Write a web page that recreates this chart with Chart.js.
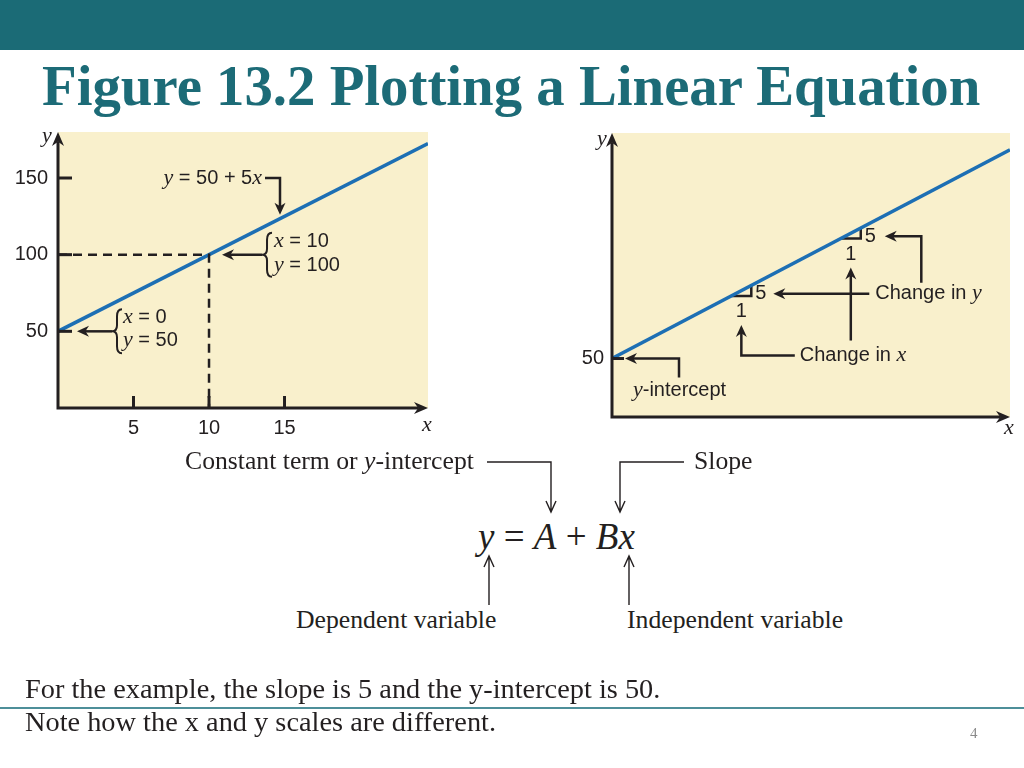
<!DOCTYPE html>
<html>
<head>
<meta charset="utf-8">
<script src="https://cdn.jsdelivr.net/npm/chart.js@4.4.1/dist/chart.umd.min.js"></script>
<style>
  body { margin: 0; width: 1024px; height: 768px; position: relative; overflow: hidden; background: #fff; color: #231f20; font-family: "Liberation Serif", "Times New Roman", serif; }
  .abs { position: absolute; white-space: nowrap; }
  .lbl { font-size: 25.7px; line-height: 30px; }
  .note { font-size: 27px; line-height: 30px; transform: scaleX(1.05); transform-origin: 0 0; }
  i { font-style: italic; }
</style>
</head>
<body>
<div class="abs" style="left:0;top:0;width:1024px;height:50px;background:#1b6b76"></div>
<div class="abs" style="left:42px;top:58px;font:bold 56.8px/1 'Liberation Serif',serif;color:#1c6b77">Figure 13.2 Plotting a Linear Equation</div>

<canvas id="left" class="abs" width="440" height="330" style="left:0;top:120px"></canvas>
<canvas id="right" class="abs" width="454" height="330" style="left:570px;top:120px"></canvas>

<!-- equation block under the charts -->
<div class="abs lbl" style="left:185px;top:446px">Constant term or <i>y</i>-intercept</div>
<div class="abs lbl" style="left:694px;top:446px">Slope</div>
<div class="abs" style="left:478px;top:515px;font-size:37px;line-height:44px"><i>y</i> = <i>A</i> + <i>Bx</i></div>
<div class="abs lbl" style="left:296px;top:605px">Dependent variable</div>
<div class="abs lbl" style="left:627px;top:605px">Independent variable</div>
<svg class="abs" style="left:0;top:0" width="1024" height="768" fill="none" stroke="#231f20" stroke-width="1.4">
  <path d="M487 462 H551 V512 M546 501 L551 512 L556 501"/>
  <path d="M684 462 H620 V512 M615 501 L620 512 L625 501"/>
  <path d="M489 605 V556 M484 567 L489 556 L494 567"/>
  <path d="M629 605 V556 M624 567 L629 556 L634 567"/>
  <path d="M0 708 H1024" stroke="#4d8f99" stroke-width="2"/>
</svg>

<div class="abs note" style="left:25px;top:674px">For the example, the slope is 5 and the y-intercept is 50.</div>
<div class="abs note" style="left:25px;top:707px">Note how the x and y scales are different.</div>
<div class="abs" style="left:970px;top:723px;font-size:15px;line-height:20px;color:#8a8a8a">4</div>

<script>
// left panel: y = 50 + 5x
const leftLineX = [0, 24.5];
const leftLineY = [50, 172.5];
const leftYTicks = [50, 100, 150];
const leftXTicks = [5, 10, 15];
const guidePoint = [10, 100];
const eqPointer = [14.7, 123.5];

// right panel: slope steps
const rightLineX = [0, 20];
const rightLineY = [50, 150];
const rightYTicks = [50];
const stepX = [6, 11.5];
const stepY = [80, 107.5];

const INK = '#231f20';
const BLUE = '#1d6fb4';
const BEIGE = '#f9f0cc';
const SANS = '20px "Liberation Sans", Arial, sans-serif';
const ITAL = 'italic 22px "Liberation Serif", serif';

function pts(xs, ys) {
  return xs.map((x, i) => ({ x: x, y: ys[i] }));
}

function head(ctx, x, y, ux, uy, L, W) {
  const nx = -uy, ny = ux;
  ctx.beginPath();
  ctx.moveTo(x, y);
  ctx.lineTo(x - L * ux + W * nx, y - L * uy + W * ny);
  ctx.lineTo(x - 0.7 * L * ux, y - 0.7 * L * uy);
  ctx.lineTo(x - L * ux - W * nx, y - L * uy - W * ny);
  ctx.closePath();
  ctx.fill();
}

// polyline ending in a filled arrow head
function arrow(ctx, p) {
  const n = p.length;
  const dx = p[n - 1][0] - p[n - 2][0], dy = p[n - 1][1] - p[n - 2][1];
  const d = Math.hypot(dx, dy), ux = dx / d, uy = dy / d;
  ctx.beginPath();
  ctx.moveTo(p[0][0], p[0][1]);
  for (let i = 1; i < n - 1; i++) ctx.lineTo(p[i][0], p[i][1]);
  ctx.lineTo(p[n - 1][0] - 8 * ux, p[n - 1][1] - 8 * uy);
  ctx.stroke();
  head(ctx, p[n - 1][0], p[n - 1][1], ux, uy, 12, 5.5);
}

function rich(ctx, parts, x, y, align) {
  ctx.textBaseline = 'middle';
  ctx.textAlign = 'left';
  let w = 0;
  parts.forEach(([t, f]) => { ctx.font = f; w += ctx.measureText(t).width; });
  if (align === 'right') x -= w;
  parts.forEach(([t, f]) => { ctx.font = f; ctx.fillText(t, x, y); x += ctx.measureText(t).width; });
}

function brace(ctx, x, y0, y1, w) {
  const m = (y0 + y1) / 2, h = x + w / 2;
  ctx.beginPath();
  ctx.moveTo(x + w, y0);
  ctx.quadraticCurveTo(h, y0, h, y0 + 7);
  ctx.lineTo(h, m - 6);
  ctx.quadraticCurveTo(h, m, x, m);
  ctx.quadraticCurveTo(h, m, h, m + 6);
  ctx.lineTo(h, y1 - 7);
  ctx.quadraticCurveTo(h, y1, x + w, y1);
  ctx.stroke();
}

function axes(ctx, a) {
  ctx.strokeStyle = INK;
  ctx.fillStyle = INK;
  ctx.lineWidth = 3;
  ctx.beginPath();
  ctx.moveTo(a.left, a.bottom + 1.5);
  ctx.lineTo(a.left, a.top + 10);
  ctx.moveTo(a.left - 1.5, a.bottom);
  ctx.lineTo(a.right - 10, a.bottom);
  ctx.stroke();
  head(ctx, a.left, a.top, 0, -1, 14, 6);
  head(ctx, a.right, a.bottom, 1, 0, 14, 6);
}

const panelBg = {
  id: 'panelBg',
  beforeDraw(chart) {
    const a = chart.chartArea, ctx = chart.ctx;
    ctx.save();
    ctx.fillStyle = BEIGE;
    ctx.fillRect(a.left, a.top, a.right - a.left, a.bottom - a.top);
    ctx.restore();
  }
};

const leftNotes = {
  id: 'leftNotes',
  afterDatasetsDraw(chart) {
    const { ctx, chartArea: a, scales: { x, y } } = chart;
    ctx.save();
    axes(ctx, a);
    leftYTicks.forEach(v => {
      const py = y.getPixelForValue(v);
      ctx.beginPath(); ctx.moveTo(a.left, py); ctx.lineTo(a.left + 14, py); ctx.stroke();
    });
    leftXTicks.forEach(v => {
      const px = x.getPixelForValue(v);
      ctx.beginPath(); ctx.moveTo(px, a.bottom); ctx.lineTo(px, a.bottom - 12); ctx.stroke();
    });
    ctx.lineWidth = 2.5;
    // y = 50 + 5x pointer
    const ex = x.getPixelForValue(eqPointer[0]), ey = y.getPixelForValue(eqPointer[1]);
    const ty = y.getPixelForValue(150);
    arrow(ctx, [[ex - 15, ty], [ex, ty], [ex, ey - 4]]);
    rich(ctx, [['y', ITAL], [' = 50 + 5', SANS], ['x', ITAL]], ex - 18, ty, 'right');
    // x = 10, y = 100
    const gx = x.getPixelForValue(guidePoint[0]), gy = y.getPixelForValue(guidePoint[1]);
    arrow(ctx, [[gx + 53, gy], [gx + 13, gy]]);
    ctx.lineWidth = 2;
    brace(ctx, gx + 53, gy - 22, gy + 22, 10);
    rich(ctx, [['x', ITAL], [' = 10', SANS]], gx + 65, gy - 13);
    rich(ctx, [['y', ITAL], [' = 100', SANS]], gx + 65, gy + 11);
    // x = 0, y = 50
    const ox = x.getPixelForValue(leftLineX[0]), oy = y.getPixelForValue(leftLineY[0]);
    ctx.lineWidth = 2.5;
    arrow(ctx, [[ox + 54, oy], [ox + 19, oy]]);
    ctx.lineWidth = 2;
    brace(ctx, ox + 54, oy - 22, oy + 22, 10);
    rich(ctx, [['x', ITAL], [' = 0', SANS]], ox + 65, oy - 14);
    rich(ctx, [['y', ITAL], [' = 50', SANS]], ox + 65, oy + 9);
    // axis names
    rich(ctx, [['y', ITAL]], a.left - 16, a.top + 4);
    rich(ctx, [['x', ITAL]], a.right - 6, a.bottom + 17);
    ctx.restore();
  }
};

const rightNotes = {
  id: 'rightNotes',
  afterDatasetsDraw(chart) {
    const { ctx, chartArea: a, scales: { x, y } } = chart;
    ctx.save();
    axes(ctx, a);
    rightYTicks.forEach(v => {
      const py = y.getPixelForValue(v);
      ctx.beginPath(); ctx.moveTo(a.left, py); ctx.lineTo(a.left + 12, py); ctx.stroke();
    });
    // step labels
    const lab = stepX.map((sx, i) => {
      const cx = x.getPixelForValue(sx + 1);
      const cy = y.getPixelForValue(stepY[i]);
      const topY = y.getPixelForValue(stepY[i] + 5);
      const mx = x.getPixelForValue(sx + 0.5);
      const fiveY = (cy + topY) / 2 + 3;
      rich(ctx, [['5', SANS]], cx + 4, fiveY);
      rich(ctx, [['1', SANS]], mx - 5.5, cy + 16);
      return { cx, cy, fiveY, mx, oneY: cy + 16 };
    });
    ctx.lineWidth = 2.5;
    // change in y
    const cyText = lab[0].fiveY;
    const tX = lab[0].cx + 124;
    arrow(ctx, [[tX - 6, cyText], [lab[0].cx + 22, cyText]]);
    rich(ctx, [['Change in ', SANS], ['y', ITAL]], tX, cyText);
    arrow(ctx, [[tX + 46, cyText - 11], [tX + 46, lab[1].fiveY], [lab[1].cx + 24, lab[1].fiveY]]);
    // change in x
    const base = y.getPixelForValue(rightLineY[0]);
    const cxY = base - 3;
    const cxX = lab[1].mx - 51;
    arrow(ctx, [[cxX - 5, cxY], [lab[0].mx, cxY], [lab[0].mx, lab[0].oneY + 13]]);
    arrow(ctx, [[lab[1].mx, cxY - 15], [lab[1].mx, lab[1].oneY + 13]]);
    rich(ctx, [['Change in ', SANS], ['x', ITAL]], cxX, cxY);
    // y-intercept
    const ox = x.getPixelForValue(rightLineX[0]);
    arrow(ctx, [[ox + 67, base + 19], [ox + 67, base], [ox + 13, base]]);
    rich(ctx, [['y', ITAL], ['-intercept', SANS]], ox + 21, base + 32);
    // axis names
    rich(ctx, [['y', ITAL]], a.left - 15, a.top + 6);
    rich(ctx, [['x', ITAL]], a.right - 6, a.bottom + 11);
    ctx.restore();
  }
};

function scaleOpts(min, max, ticks, fitW, fitH, pad, show) {
  return {
    type: 'linear', min: min, max: max,
    grid: { display: false, drawTicks: false },
    border: { display: false },
    afterBuildTicks: s => { s.ticks = ticks.map(v => ({ value: v })); },
    afterFit: s => {
      if (fitW !== null) s.width = fitW;
      if (fitH !== null) s.height = fitH;
      // the labels never sit on the panel edges, so no extra room is needed
      s.paddingTop = 0; s.paddingBottom = 0; s.paddingLeft = 0; s.paddingRight = 0;
    },
    ticks: { display: show, padding: pad, color: INK, font: { family: '"Liberation Sans", Arial, sans-serif', size: 20 } }
  };
}

const common = {
  responsive: false,
  animation: false,
  events: [],
  plugins: { legend: { display: false }, tooltip: { enabled: false } }
};

new Chart(document.getElementById('left'), {
  type: 'scatter',
  data: {
    datasets: [
      { data: pts([0, guidePoint[0], guidePoint[0]], [guidePoint[1], guidePoint[1], 0]), showLine: true, borderColor: INK, borderWidth: 2.5, borderDash: [9, 6], pointRadius: 0 },
      { data: pts(leftLineX, leftLineY), showLine: true, borderColor: BLUE, borderWidth: 3.5, pointRadius: 0 }
    ]
  },
  options: Object.assign({}, common, {
    layout: { padding: { left: 0, right: 12, top: 12, bottom: 0 } },
    scales: {
      x: scaleOpts(0, 24.5, leftXTicks, null, 42, 8, true),
      y: scaleOpts(0, 180, leftYTicks, 58, null, 10, true)
    }
  }),
  plugins: [panelBg, leftNotes]
});

new Chart(document.getElementById('right'), {
  type: 'scatter',
  data: {
    datasets: [
      { data: pts(rightLineX, rightLineY), showLine: true, borderColor: BLUE, borderWidth: 3.5, pointRadius: 0 }
    ].concat(stepX.map((sx, i) => ({
      data: pts([sx, sx + 1, sx + 1], [stepY[i], stepY[i], stepY[i] + 5]),
      showLine: true, borderColor: INK, borderWidth: 2.5, pointRadius: 0
    })))
  },
  options: Object.assign({}, common, {
    layout: { padding: { left: 0, right: 14, top: 13, bottom: 0 } },
    scales: {
      x: scaleOpts(0, 20, [], null, 33, 8, false),
      y: scaleOpts(22, 158, rightYTicks, 42, null, 8, true)
    }
  }),
  plugins: [panelBg, rightNotes]
});
</script>
</body>
</html>
